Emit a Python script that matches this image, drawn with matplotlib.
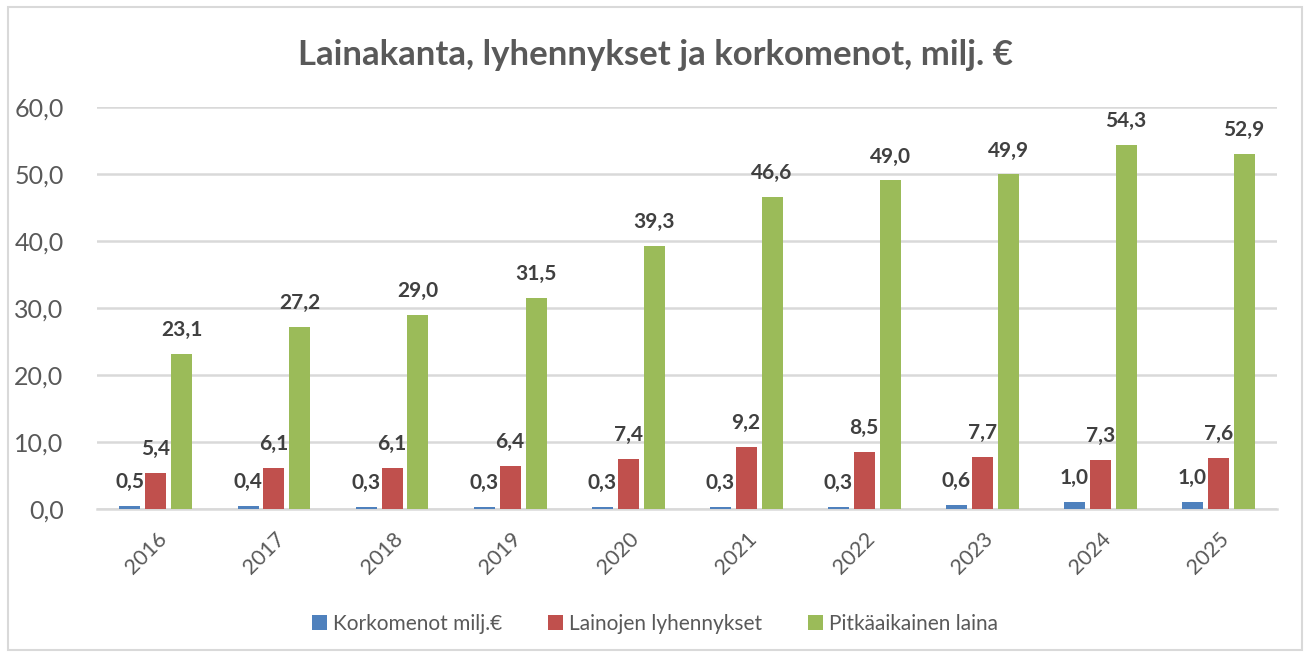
import numpy as np
import matplotlib
matplotlib.use('Agg')
import matplotlib.pyplot as plt
import matplotlib.transforms as mtransforms
from matplotlib.patches import Rectangle

years = ['2016', '2017', '2018', '2019', '2020', '2021', '2022', '2023', '2024', '2025']
korkomenot = [0.5, 0.4, 0.3, 0.3, 0.3, 0.3, 0.3, 0.6, 1.0, 1.0]
lyhennykset = [5.4, 6.1, 6.1, 6.4, 7.4, 9.2, 8.5, 7.7, 7.3, 7.6]
pitkaaikainen = [23.1, 27.2, 29.0, 31.5, 39.3, 46.6, 49.0, 49.9, 54.3, 52.9]
series_names = ['Korkomenot milj.€', 'Lainojen lyhennykset', 'Pitkäaikainen laina']
colors = ['#4F81BD', '#C0504D', '#9BBB59']

plt.rcParams['font.family'] = ['Lato', 'DejaVu Sans']

fig = plt.figure(figsize=(13.1, 6.55), dpi=100)
ax = fig.add_axes([0.074, 0.223, 0.901, 0.614])

# chart border
fig.patches.append(Rectangle((0.006, 0.008), 0.988, 0.982, transform=fig.transFigure,
                             fill=False, edgecolor='#d9d9d9', linewidth=1.5))

x = np.arange(len(years))
w = 0.178
step = 0.22
for i, (vals, name) in enumerate(zip([korkomenot, lyhennykset, pitkaaikainen], series_names)):
    bars = ax.bar(x + (i - 1) * step, vals, width=w, color=colors[i], label=name, zorder=3)
    for b, v in zip(bars, vals):
        ax.annotate(f'{v:.1f}'.replace('.', ','), (b.get_x() + b.get_width() / 2, v),
                    xytext=(0, 10), textcoords='offset points', ha='center', va='bottom',
                    fontsize=15, fontweight='bold', color='#404040')

ax.set_xlim(-0.5, len(years) - 0.5)
ax.set_ylim(0, 60)
ax.set_yticks(np.arange(0, 61, 10))
ax.set_yticklabels([f'{t:.1f}'.replace('.', ',') for t in np.arange(0, 61, 10)],
                   fontsize=18, color='#595959')
ax.set_xticks(x)
ax.set_xticklabels(years, rotation=45, fontsize=15.5, color='#595959')
ax.tick_params(axis='both', length=0)
ax.tick_params(axis='y', pad=24)
ax.tick_params(axis='x', pad=14)
shift = mtransforms.ScaledTranslation(-10 / 100, 0, fig.dpi_scale_trans)
for lab in ax.get_xticklabels():
    lab.set_transform(lab.get_transform() + shift)
ax.grid(axis='y', color='#d9d9d9', linewidth=1.8, zorder=0)
for s in ['top', 'right', 'left']:
    ax.spines[s].set_visible(False)
ax.spines['bottom'].set_color('#d9d9d9')
ax.spines['bottom'].set_linewidth(1.8)

fig.text(0.5, 0.916, 'Lainakanta, lyhennykset ja korkomenot, milj. €', ha='center', va='center',
         fontsize=25, fontweight='bold', color='#595959')

leg = fig.legend(loc='center', bbox_to_anchor=(0.5, 0.048), ncol=3, frameon=False,
                 fontsize=15, handlelength=0.7, handleheight=0.7, handletextpad=0.3,
                 columnspacing=2.2)
for t in leg.get_texts():
    t.set_color('#595959')

fig.savefig('out.png', dpi=100)
